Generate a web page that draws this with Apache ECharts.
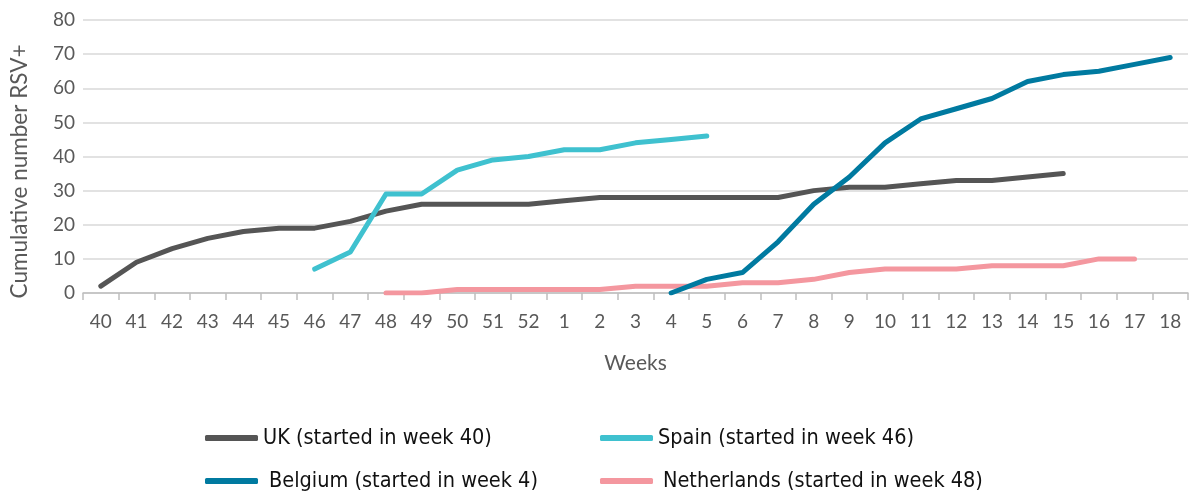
<!DOCTYPE html>
<html><head><meta charset="utf-8">
<script src="https://cdn.jsdelivr.net/npm/echarts@6/dist/echarts.min.js"></script>
<style>html,body{margin:0;padding:0;background:#fff}#c{width:1194px;height:492px}</style>
</head><body><div id="c"></div>
<script>
var weeks = ['40','41','42','43','44','45','46','47','48','49','50','51','52','1','2','3','4','5','6','7','8','9','10','11','12','13','14','15','16','17','18'];
var ukValues = [2,9,13,16,18,19,19,21,24,26,26,26,26,27,28,28,28,28,28,28,30,31,31,32,33,33,34,35,null,null,null];
var spainValues = [null,null,null,null,null,null,7,12,29,29,36,39,40,42,42,44,45,46,null,null,null,null,null,null,null,null,null,null,null,null,null];
var belgiumValues = [null,null,null,null,null,null,null,null,null,null,null,null,null,null,null,null,0,4,6,15,26,34,44,51,54,57,62,64,65,67,69];
var netherlandsValues = [null,null,null,null,null,null,null,null,0,0,1,1,1,1,1,2,2,2,3,3,4,6,7,7,7,8,8,8,10,10,null];
var seriesNames = ['UK (started in week 40)','Spain (started in week 46)','Belgium (started in week 4)','Netherlands (started in week 48)'];
var colors = ['#555555','#3fc1cf','#007aa0','#f4979f'];
var yTicks = [0,10,20,30,40,50,60,70,80];

var chart = echarts.init(document.getElementById('c'));
var vals = [ukValues, spainValues, belgiumValues, netherlandsValues];
var legendPos = [[200,422],[595,422],[200,465],[595,465]];
var textGaps = [5,5,11,10];
var font = 'Lato, "Open Sans", sans-serif';
var legends = seriesNames.map(function(n,i){
  return {data:[n], left:legendPos[i][0], top:legendPos[i][1], itemWidth:53, itemHeight:6, itemGap:4,
    icon:'roundRect', selectedMode:false,
    textStyle:{fontFamily:'"DejaVu Sans Condensed","Liberation Sans Narrow",sans-serif', fontSize:21.5, color:'#111', padding:[0,0,0,textGaps[i]-5]}};
});
chart.setOption({
  animation:false,
  color:colors,
  grid:{left:75, right:6, top:20, bottom:199, containLabel:false},
  legend:legends,
  xAxis:{type:'category', data:weeks, boundaryGap:true,
    name:'Weeks', nameLocation:'middle', nameGap:60,
    nameTextStyle:{fontFamily:font, fontSize:21, color:'#595959'},
    axisLine:{lineStyle:{color:'#bfbfbf', width:1.5}},
    axisTick:{show:true, interval:0, length:7, lineStyle:{color:'#bfbfbf', width:1.5}},
    axisLabel:{interval:0, margin:19, fontFamily:font, fontSize:19, color:'#595959'}},
  yAxis:{type:'value', min:yTicks[0], max:yTicks[yTicks.length-1], interval:10,
    name:'Cumulative number RSV+', nameLocation:'middle', nameGap:52,
    nameTextStyle:{fontFamily:font, fontSize:22.5, color:'#595959', padding:[0,30,0,0]},
    axisLine:{show:false}, axisTick:{show:false},
    splitLine:{lineStyle:{color:'#d9d9d9', width:1.5}},
    axisLabel:{margin:8, fontFamily:font, fontSize:19, color:'#595959'}},
  series:vals.map(function(v,i){
    return {name:seriesNames[i], type:'line', data:v, showSymbol:false, symbol:'none', connectNulls:false,
      lineStyle:{width:5, color:colors[i], cap:'round', join:'round'}, itemStyle:{color:colors[i]}, z:[2,3,4,1][i]};
  })
});
</script></body></html>
